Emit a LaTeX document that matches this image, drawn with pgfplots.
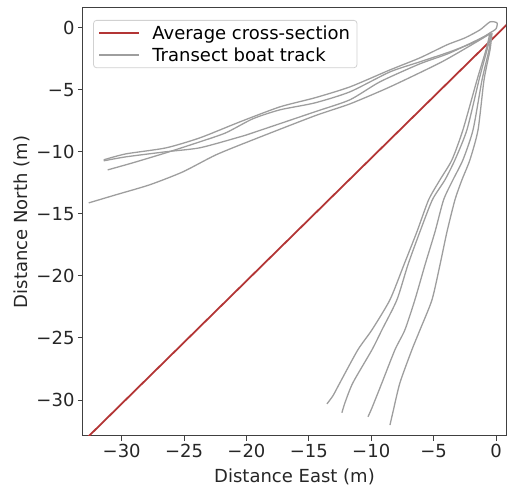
\documentclass[border=0pt]{standalone}
\usepackage{fontspec}
\setmainfont{DejaVu Sans}
\usepackage{pgfplots}
\pgfplotsset{compat=1.18}
\definecolor{avgred}{HTML}{B33535}
\definecolor{track}{HTML}{9E9E9E}
\newcommand{\fs}{\fontsize{18}{21}\selectfont}

\begin{document}
\begin{tikzpicture}
\begin{axis}[
    scale only axis,
    width=423pt, height=428pt,
    xmin=-33.1, xmax=0.8,
    ymin=-32.9, ymax=1.6,
    axis line style={black!75, line width=1pt},
    tick align=outside,
    major tick length=5pt,
    tick style={black!75, line width=1pt},
    xtick pos=bottom, ytick pos=left,
    xtick={-30,-25,-20,-15,-10,-5,0},
    xticklabels={−30,−25,−20,−15,−10,−5,0},
    ytick={-30,-25,-20,-15,-10,-5,0},
    yticklabels={−30,−25,−20,−15,−10,−5,0},
    ticklabel style={font=\fs, text=black!85},
    label style={font=\fs, text=black!85},
    xlabel={Distance East (m)},
    xlabel style={yshift=-4pt},
    ylabel={Distance North (m)},
    legend cell align=left,
    legend style={
        at={(0.024,0.972)}, anchor=north west,
        draw=black!18, line width=0.8pt, rounded corners=3pt,
        fill=white, font=\fs, row sep=3pt,
        inner xsep=5pt, inner ysep=3pt
    },
    legend image code/.code={\draw[#1] (0pt,0pt) -- (40pt,0pt); \path (50pt,0pt);},
    every axis plot/.append style={line join=round},
]
% average cross-section
\addplot[avgred, line width=1.8pt] coordinates {(-34,-34.26) (1,0.39)};
\addlegendentry{Average cross-section}

% upper tracks
\addplot[track, line width=1.3pt, smooth, tension=0.4] coordinates {
 (-31.44,-10.64) (-29.67,-10.16) (-26.47,-9.68) (-23.74,-8.87) (-20.53,-7.58)
 (-17.32,-6.37) (-14.52,-5.64) (-11.71,-4.76) (-8.50,-3.39) (-6.10,-2.42)
 (-3.93,-1.37) (-2.49,-0.81) (-1.28,-0.16) (-0.48,0.48) (0.08,0.40)
 (0.00,-0.08) (-0.48,-0.40)};
\addlegendentry{Transect boat track}
\addplot[track, line width=1.3pt, smooth, tension=0.4, forget plot] coordinates {
 (-31.12,-11.45) (-29.11,-10.88) (-26.47,-10.08) (-23.74,-9.19) (-21.65,-8.46)
 (-19.49,-7.33) (-17.32,-6.61) (-14.52,-6.05) (-11.71,-5.16) (-8.50,-3.55)
 (-6.10,-2.74) (-3.69,-1.93) (-1.68,-1.13) (-0.48,-0.40)};
\addplot[track, line width=1.3pt, smooth, tension=0.4, forget plot] coordinates {
 (-31.44,-10.72) (-29.67,-10.40) (-26.47,-9.99) (-23.74,-9.67) (-20.53,-8.79)
 (-19.49,-8.46) (-14.52,-6.77) (-11.71,-5.80) (-9.30,-4.35) (-6.10,-2.90)
 (-3.69,-2.02) (-0.48,-0.48)};
\addplot[track, line width=1.3pt, smooth, tension=0.4, forget plot] coordinates {
 (-32.64,-14.11) (-30.47,-13.46) (-27.75,-12.65) (-25.10,-11.61) (-22.45,-10.24)
 (-19.49,-9.03) (-14.52,-7.09) (-11.71,-6.13) (-8.50,-4.76) (-4.49,-2.82)
 (-2.09,-1.45) (-0.48,-0.48)};

% lower tracks
\addplot[track, line width=1.3pt, smooth, tension=0.4, forget plot] coordinates {
 (-0.48,-0.40) (-0.80,-1.77) (-1.52,-4.19) (-2.65,-8.22) (-3.53,-10.64)
 (-4.49,-12.25) (-5.40,-13.86) (-6.34,-16.44) (-7.38,-19.10) (-8.50,-21.92)
 (-9.94,-24.34) (-11.07,-25.95) (-12.51,-28.61) (-13.07,-29.66) (-13.55,-30.31)};
\addplot[track, line width=1.3pt, smooth, tension=0.4, forget plot] coordinates {
 (-0.40,-0.48) (-0.72,-1.77) (-1.36,-4.19) (-2.33,-8.22) (-3.29,-10.64)
 (-4.09,-12.25) (-5.10,-13.86) (-6.10,-16.44) (-7.06,-19.10) (-7.94,-21.92)
 (-9.14,-24.34) (-9.94,-25.95) (-11.47,-28.61) (-12.11,-30.23) (-12.35,-31.03)};
\addplot[track, line width=1.3pt, smooth, tension=0.4, forget plot] coordinates {
 (-0.40,-0.40) (-0.56,-1.77) (-1.12,-4.19) (-1.84,-8.22) (-2.65,-10.64)
 (-3.45,-12.25) (-4.20,-13.86) (-4.89,-16.44) (-5.69,-19.10) (-6.50,-21.92)
 (-7.30,-24.34) (-8.10,-25.95) (-9.14,-28.61) (-9.94,-30.63) (-10.26,-31.35)};
\addplot[track, line width=1.3pt, smooth, tension=0.4, forget plot] coordinates {
 (-0.32,-0.40) (-0.48,-1.77) (-0.96,-4.19) (-1.44,-8.22) (-2.09,-10.64)
 (-2.73,-12.25) (-3.29,-13.86) (-3.93,-16.44) (-4.49,-19.10) (-5.13,-21.92)
 (-6.09,-24.34) (-6.74,-25.95) (-7.70,-28.61) (-8.26,-30.97) (-8.50,-32.02)};
\end{axis}
\pgfresetboundingbox
\path[use as bounding box] ([shift={(-83pt,-51pt)}]current axis.south west)
    rectangle ([shift={(1pt,8pt)}]current axis.north east);
\end{tikzpicture}
\end{document}
